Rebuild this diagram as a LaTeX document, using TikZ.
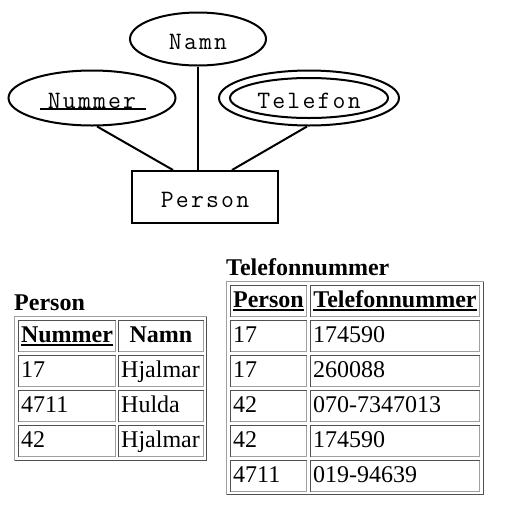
\documentclass[tikz,border=0pt]{standalone}
\usepackage{fontspec}
\setmainfont{Liberation Serif}
\usetikzlibrary{shapes.geometric}
\definecolor{cdark}{HTML}{505050}
\definecolor{clight}{HTML}{A0A0A0}
\newcommand\ermono{\fontsize{25}{28}\selectfont\ttfamily}
\newcommand\ls{\kern2.2pt}
\newcommand\tcell[4]{%
  \draw[cdark,line width=1pt] (#1,#4) -- (#1,#2) -- (#3,#2);
  \draw[clight,line width=1pt] (#3,#2) -- (#3,#4) -- (#1,#4);}
\newcommand\touter[4]{%
  \draw[clight,line width=1pt] (#1,#4) -- (#1,#2) -- (#3,#2);
  \draw[cdark,line width=1pt] (#3,#2) -- (#3,#4) -- (#1,#4);}
\tikzset{
  erline/.style={line width=2pt},
  attr/.style={ellipse, draw, line width=2pt, inner sep=0pt, font=\ermono, text height=20pt, text depth=0pt},
  ent/.style={rectangle, draw, line width=2pt, inner sep=0pt, font=\ermono, text height=20pt, text depth=0pt},
  txt/.style={inner sep=0pt, anchor=base west, font=\fontsize{24}{28}\selectfont},
  hdr/.style={inner sep=0pt, anchor=base, font=\fontsize{24}{28}\selectfont\bfseries},
  ttl/.style={inner sep=0pt, anchor=base west, font=\fontsize{24}{28}\selectfont\bfseries},
  uline/.style={line width=1.8pt},
}
\begin{document}
\begin{tikzpicture}[x=1pt,y=-1pt]
\useasboundingbox (0,0) rectangle (507,515);
% ER diagram
\node[attr, minimum width=136pt, minimum height=53pt] (nam) at (198,39) {N\ls a\ls m\ls n};
\node[attr, minimum width=167pt, minimum height=55pt] (num) at (92,98) {N\ls u\ls m\ls m\ls e\ls r};
\node[attr, minimum width=180pt, minimum height=55pt] (tel) at (309,98) {};
\node[attr, minimum width=158pt, minimum height=40pt] (telin) at (309,98) {T\ls e\ls l\ls e\ls f\ls o\ls n};
\node[ent, minimum width=146pt, minimum height=52pt] (per) at (205,197) {P\ls e\ls r\ls s\ls o\ls n};
\draw[line width=2pt] ([shift={(-52,11)}]num.center) -- ([shift={(54,11)}]num.center);
\draw[erline] (num.-80) -- ([xshift=-32pt]per.north);
\draw[erline] (nam.south) -- ([xshift=-7pt]per.north);
\draw[erline] (tel.-94) -- ([xshift=27pt]per.north);
% Person table
\node[ttl] (t1) at (14,310) {Person};
\touter{14.5}{316.5}{206.5}{460.5}
\tcell{18.5}{320.5}{115.5}{351.5}
\tcell{118.5}{320.5}{203.5}{351.5}
\tcell{18.5}{355.5}{115.5}{386.5}
\tcell{118.5}{355.5}{203.5}{386.5}
\tcell{18.5}{390.5}{115.5}{421.5}
\tcell{118.5}{390.5}{203.5}{421.5}
\tcell{18.5}{425.5}{115.5}{456.5}
\tcell{118.5}{425.5}{203.5}{456.5}
\node[hdr] (h11) at (67,342) {Nummer};
\draw[uline] ([yshift=-3pt]h11.base west) -- ([yshift=-3pt]h11.base east);
\node[hdr] (h12) at (161,342) {Namn};
\node[txt] (a1) at (21,377) {17};
\node[txt] (b1) at (121,377) {Hjalmar};
\node[txt] (a2) at (21,412) {4711};
\node[txt] (b2) at (121,412) {Hulda};
\node[txt] (a3) at (21,447) {42};
\node[txt] (b3) at (121,447) {Hjalmar};
% Telefonnummer table
\node[ttl] (t2) at (226,275) {Telefonnummer};
\touter{226.5}{281.5}{483.5}{494.5}
\foreach \t in {285,320,355,390,425,460}{
  \tcell{230.5}{\t.5}{306.5}{\t.5+31}
  \tcell{310.5}{\t.5}{479.5}{\t.5+31}
}
\node[hdr] (h21) at (268.5,307) {Person};
\draw[uline] ([yshift=-3pt]h21.base west) -- ([yshift=-3pt]h21.base east);
\node[hdr] (h22) at (395,307) {Telefonnummer};
\draw[uline] ([yshift=-3pt]h22.base west) -- ([yshift=-3pt]h22.base east);
\node[txt] (c1) at (233,342) {17};
\node[txt] (d1) at (313,342) {174590};
\node[txt] (c2) at (233,377) {17};
\node[txt] (d2) at (313,377) {260088};
\node[txt] (c3) at (233,412) {42};
\node[txt] (d3) at (313,412) {070-7347013};
\node[txt] (c4) at (233,447) {42};
\node[txt] (d4) at (313,447) {174590};
\node[txt] (c5) at (233,482) {4711};
\node[txt] (d5) at (313,482) {019-94639};
\end{tikzpicture}
\end{document}
